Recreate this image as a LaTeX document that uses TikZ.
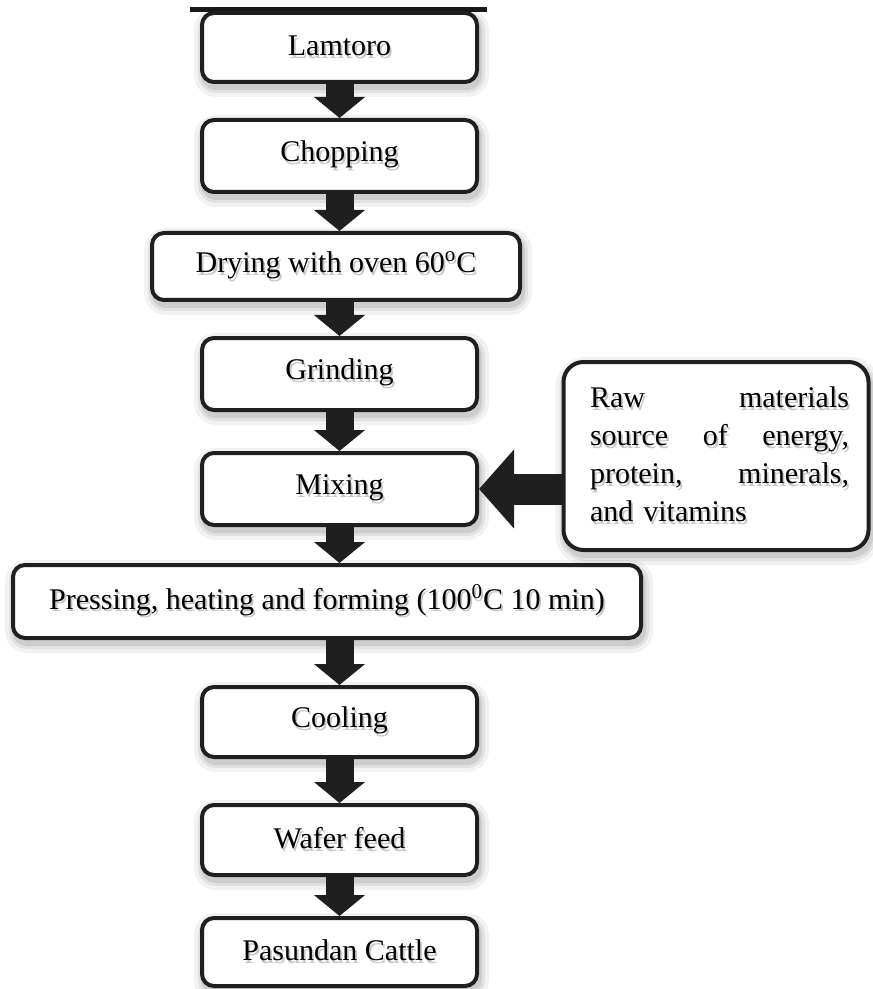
\documentclass[tikz,border=0pt]{standalone}
\usepackage{fontspec}
\setmainfont{Liberation Serif}
\usetikzlibrary{arrows.meta}
\newcommand{\shd}[1]{\leavevmode\rlap{\kern0.9pt\raisebox{-1.4pt}{\color{black!22}#1}}#1}
\newcommand{\sline}[1]{\hspace*{3.5pt}\shd{\makebox[129.5pt][l]{#1}}}
\begin{document}
\begin{tikzpicture}[x=0.5pt,y=-0.5pt,
  shadowed/.style={
    preaction={draw=black, draw opacity=0.05, line width=10pt, transform canvas={xshift=1pt,yshift=-2.5pt}},
    preaction={draw=black, draw opacity=0.07, line width=6pt, transform canvas={xshift=1pt,yshift=-2.5pt}},
    preaction={draw=black, draw opacity=0.09, line width=3pt, transform canvas={xshift=1pt,yshift=-2.5pt}}},
  procbox/.style={shadowed, draw=black!88, line width=2pt, rounded corners=6pt, fill=white,
    font=\fontsize{15}{19}\selectfont, inner sep=0pt, minimum width=137.5pt, minimum height=35pt},
  blockarrow/.style={draw=black!88, line width=14pt, -{Triangle[width=25pt,length=10.5pt]}},
  sidearrow/.style={draw=black!88, line width=15.5pt, -{Triangle[width=38.5pt,length=17.5pt]}}
]
\useasboundingbox (0,0) rectangle (872,989);

\coordinate (tl) at (190,10);
\coordinate (tr) at (487,10);
\draw[line width=2.5pt, black!90] (tl) -- (tr);

\node[procbox, minimum height=34.5pt] (lam) at (339.5,47.5) {\shd{Lamtoro}};
\node[procbox, minimum height=36pt] (chop) at (339.5,156) {\shd{Chopping}};
\node[procbox, minimum width=184pt, minimum height=33.5pt] (dry) at (336,266.5) {\shd{Drying with oven 60\textsuperscript{o}C}};
\node[procbox, minimum height=36pt] (grind) at (339.5,374) {\shd{Grinding}};
\node[procbox, minimum height=36pt] (mix) at (339.5,489) {\shd{Mixing}};
\node[procbox, minimum width=314pt, minimum height=36.5pt] (press) at (327,601.5) {\shd{Pressing, heating and forming (100\textsuperscript{0}C 10 min)}};
\node[procbox] (cool) at (339.5,722) {\shd{Cooling}};
\node[procbox] (wafer) at (339.5,840) {\shd{Wafer feed}};
\node[procbox, minimum height=34pt] (pas) at (339.5,952) {\shd{Pasundan Cattle}};

\node[procbox, rounded corners=10pt, minimum width=152.5pt, minimum height=94pt,
      text width=133pt, align=left] (side) at (716,456)
  {\sline{Raw\hfill materials}\\
   \sline{source\hfill of\hfill energy,}\\
   \sline{protein,\hfill minerals,}\\
   \sline{and vitamins}};

\draw[blockarrow] (lam.south) -- (chop.north);
\draw[blockarrow] (chop.south) -- (chop.south |- dry.north);
\draw[blockarrow] (grind.north |- dry.south) -- (grind.north);
\draw[blockarrow] (grind.south) -- (mix.north);
\draw[blockarrow] (mix.south) -- (mix.south |- press.north);
\draw[blockarrow] (cool.north |- press.south) -- (cool.north);
\draw[blockarrow] (cool.south) -- (wafer.north);
\draw[blockarrow] (wafer.south) -- (pas.north);
\draw[sidearrow] (side.west |- mix.east) -- (mix.east);
\end{tikzpicture}
\end{document}
